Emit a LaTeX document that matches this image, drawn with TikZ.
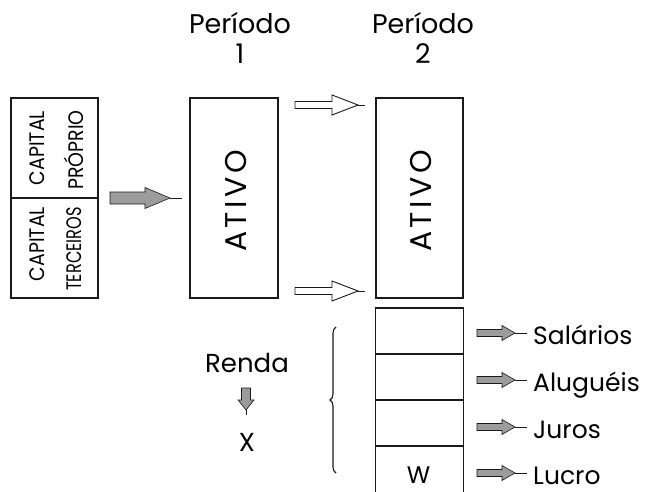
\documentclass[tikz,border=0pt]{standalone}
\usepackage{fontspec}
\setmainfont{Poppins}
\newfontfamily\condfont[FakeStretch=0.9]{Poppins}
\newfontfamily\narrowfont[FakeStretch=0.77]{Poppins}
\usetikzlibrary{positioning, calc, decorations.pathreplacing}
\definecolor{boxline}{HTML}{1A1A1A}
\definecolor{arrowfill}{HTML}{9C9C9C}
\tikzset{
  caixa/.style    = {rectangle, draw=boxline, line width=1.2pt, inner sep=0pt, outer sep=0pt},
  divline/.style  = {draw=boxline, line width=1.2pt},
  vtext/.style    = {rotate=90, font=\condfont\fontsize{21}{21}\selectfont, inner sep=0pt},
  ativotxt/.style = {rotate=90, font=\fontsize{30}{30}\selectfont, inner sep=0pt},
  periodo/.style  = {align=center, font=\fontsize{27}{30}\selectfont, inner sep=0pt},
  lbl/.style      = {anchor=base west, font=\fontsize{25}{25}\selectfont, inner sep=0pt},
  grayarrow/.style= {draw=boxline, fill=arrowfill, line width=0.6pt},
  openarrow/.style= {draw=boxline, fill=white, line width=0.9pt},
  chave/.style    = {draw=boxline, line width=1.1pt, decorate,
                     decoration={brace, amplitude=6pt}},
  pics/blockarrow/.style n args={5}{code={
    \path[pic actions] (0,-#3) -- (#2,-#3) -- (#2,-#4) -- (#1,0)
      -- (#2,#4) -- (#2,#3) -- (0,#3) -- cycle;
    \draw[pic actions, fill=none] (#1,0) -- (#5,0);
  }},
}
\begin{document}
\begin{tikzpicture}[x=1pt, y=-1pt]
  \clip (0,0) rectangle (650,492);

  % capital
  \node[caixa, minimum width=87, minimum height=200] (capital) at (54.5,198) {};
  \draw[divline] (capital.west) -- (capital.east);
  \node[vtext] (capA) at (37,148) {CAPITAL};
  \node[vtext] (proprio) at (74,150) {PRÓPRIO};
  \node[vtext] (capB) at (37,244) {CAPITAL};
  \node[vtext, font=\narrowfont\fontsize{21}{21}\selectfont] (terceiros) at (74,249) {TERCEIROS};

  % ativos
  \node[caixa, minimum width=88, minimum height=200] (ativoA) at (234,198) {};
  \node[ativotxt] (txtA) at ($(ativoA)+(2,3)$) {A\hspace{3.5pt}T\hspace{3.5pt}I\hspace{3.5pt}V\hspace{3.5pt}O};
  \node[caixa, minimum width=87, minimum height=200] (ativoB) at (419.5,198) {};
  \node[ativotxt] (txtB) at ($(ativoB)+(2,3)$) {A\hspace{3.5pt}T\hspace{3.5pt}I\hspace{3.5pt}V\hspace{3.5pt}O};

  \node[periodo] (perA) at (240,38) {Período\\1};
  \node[periodo] (perB) at (423,38) {Período\\2};

  \pic[grayarrow] at ($(capital.east)+(12,0)$) {blockarrow={60}{35}{6}{10.5}{72}};
  \pic[openarrow] at ($(ativoA.north east)+(17,7)$) {blockarrow={63}{37}{3.5}{10}{70}};
  \pic[openarrow] at ($(ativoA.south east)+(17,-7)$) {blockarrow={63}{37}{3.5}{10}{70}};

  % renda
  \node[caixa, minimum width=88, minimum height=46, anchor=north] (celA) at (419.5,308) {};
  \node[caixa, minimum width=88, minimum height=46, below=0pt of celA] (celB) {};
  \node[caixa, minimum width=88, minimum height=46, below=0pt of celB] (celC) {};
  \node[caixa, minimum width=88, minimum height=50, below=0pt of celC] (celD) {};
  \node[font=\fontsize{24}{24}\selectfont] (w) at ($(celD.north)+(-1,29)$) {W};

  \coordinate (sA) at ($(celA.east)+(13.5,2)$);
  \coordinate (sB) at ($(celB.east)+(13.5,3)$);
  \coordinate (sC) at ($(celC.east)+(13.5,4)$);
  \coordinate (sD) at ($(celD.east)+(13.5,2)$);
  \pic[grayarrow] at (sA) {blockarrow={38}{25}{3.5}{7.5}{50}};
  \pic[grayarrow] at (sB) {blockarrow={38}{25}{3.5}{7.5}{50}};
  \pic[grayarrow] at (sC) {blockarrow={38}{25}{3.5}{7.5}{50}};
  \pic[grayarrow] at (sD) {blockarrow={38}{25}{3.5}{7.5}{50}};
  \node[lbl] (salarios) at ($(sA)+(56,11)$) {Salários};
  \node[lbl] (alugueis) at ($(sB)+(56,11)$) {Aluguéis};
  \node[lbl] (juros) at ($(sC)+(56,11)$) {Juros};
  \node[lbl] (lucro) at ($(sD)+(56,11)$) {Lucro};

  \draw[chave] (336,473) -- (336,327);

  \node[font=\fontsize{26}{26}\selectfont] (renda) at (247,363) {Renda};
  \pic[grayarrow, rotate=-90] at ($(renda.center)+(-1,25)$) {blockarrow={22}{12}{4.5}{8}{27}};
  \node[font=\fontsize{26}{26}\selectfont] (xval) at (247,442) {X};
\end{tikzpicture}
\end{document}
